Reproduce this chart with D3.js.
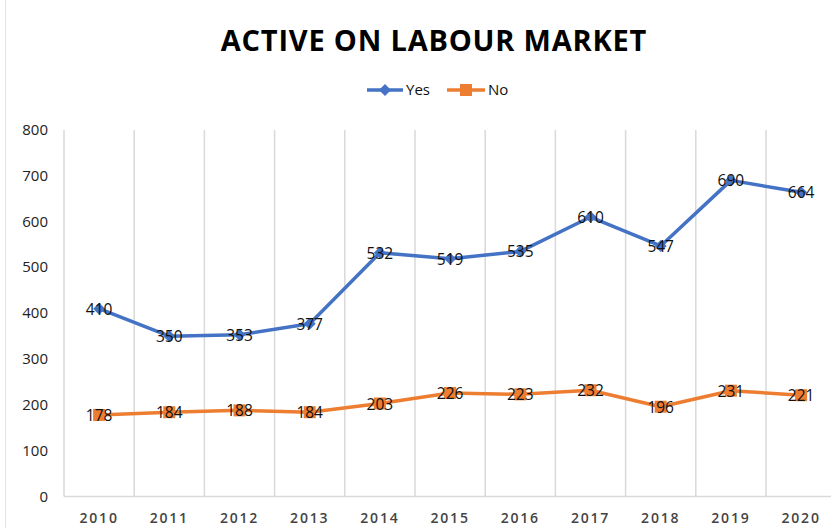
<!DOCTYPE html>
<html>
<head>
<meta charset="utf-8">
<script src="https://cdn.jsdelivr.net/npm/d3@7"></script>
<style>
  body { margin: 0; background: #fff; }
  #chart { width: 831px; height: 528px; }
</style>
</head>
<body>
<div id="chart"></div>
<script>
// data
const years = ["2010", "2011", "2012", "2013", "2014", "2015", "2016", "2017", "2018", "2019", "2020"];
const yesValues = [410, 350, 353, 377, 532, 519, 535, 610, 547, 690, 664];
const noValues = [178, 184, 188, 184, 203, 226, 223, 232, 196, 231, 221];
const yTicks = [0, 100, 200, 300, 400, 500, 600, 700, 800];

const blue = "#4472c4";
const orange = "#ed7d31";
const gridColor = "#d9d9d9";
const font = "'Open Sans', 'Noto Sans', sans-serif";

const width = 831, height = 528;

let svg = d3.select("#chart")
    .append("svg")
    .attr("width", width)
    .attr("height", height);

// left border of the chart frame
svg.append("line")
    .attr("x1", 5.5).attr("x2", 5.5)
    .attr("y1", 0).attr("y2", height)
    .attr("stroke", "#e3e3e3").attr("stroke-width", 1);

// title
svg.append("text")
    .attr("x", 434).attr("y", 51)
    .attr("text-anchor", "middle")
    .attr("font-family", font)
    .attr("font-weight", "bold")
    .attr("font-size", 29)
    .attr("letter-spacing", 0.8)
    .attr("fill", "#000")
    .text("ACTIVE ON LABOUR MARKET");

// scales
let x = d3.scaleBand()
    .domain(years)
    .range([64, 64 + 70.2 * years.length])
    .padding(0);

let y = d3.scaleLinear()
    .domain([0, 800])
    .range([496.5, 130]);

// vertical gridlines at category boundaries
let bounds = years.map(d => x(d)).concat([x.range()[1]]);
svg.append("g").selectAll("line")
    .data(bounds)
    .enter()
    .append("line")
    .attr("x1", d => d).attr("x2", d => d)
    .attr("y1", y(800)).attr("y2", y(0))
    .attr("stroke", gridColor)
    .attr("stroke-width", 1.5);

// x axis line
svg.append("line")
    .attr("x1", x.range()[0]).attr("x2", x.range()[1])
    .attr("y1", y(0)).attr("y2", y(0))
    .attr("stroke", gridColor)
    .attr("stroke-width", 1.5);

// y tick labels
svg.append("g").selectAll("text")
    .data(yTicks)
    .enter()
    .append("text")
    .attr("x", 48)
    .attr("y", d => y(d) + 5)
    .attr("text-anchor", "end")
    .attr("font-family", font)
    .attr("font-size", 15)
    .attr("fill", "#222")
    .text(d => d);

// x tick labels
svg.append("g").selectAll("text")
    .data(years)
    .enter()
    .append("text")
    .attr("x", d => x(d) + x.bandwidth() / 2)
    .attr("y", 523)
    .attr("text-anchor", "middle")
    .attr("font-family", font)
    .attr("font-weight", 600)
    .attr("font-size", 14)
    .attr("letter-spacing", 1.8)
    .attr("fill", "#444")
    .text(d => d);

const cx = i => x(years[i]) + x.bandwidth() / 2;

let line = d3.line()
    .x((d, i) => cx(i))
    .y(d => y(d));

// diamond marker: square turned 45 degrees
const diamond = "M0,-6L6,0L0,6L-6,0Z";

// No series
svg.append("path")
    .attr("d", line(noValues))
    .attr("fill", "none")
    .attr("stroke", orange)
    .attr("stroke-width", 3.5)
    .attr("stroke-linejoin", "round");

svg.append("g").selectAll("rect")
    .data(noValues)
    .enter()
    .append("rect")
    .attr("x", (d, i) => cx(i) - 6)
    .attr("y", d => y(d) - 6)
    .attr("width", 12).attr("height", 12)
    .attr("fill", orange);

// Yes series
svg.append("path")
    .attr("d", line(yesValues))
    .attr("fill", "none")
    .attr("stroke", blue)
    .attr("stroke-width", 3.5)
    .attr("stroke-linejoin", "round");

svg.append("g").selectAll("path")
    .data(yesValues)
    .enter()
    .append("path")
    .attr("d", diamond)
    .attr("transform", (d, i) => "translate(" + cx(i) + "," + y(d) + ")")
    .attr("fill", blue);

// data labels (centered on points)
function addLabels(values) {
    svg.append("g").selectAll("text")
        .data(values)
        .enter()
        .append("text")
        .attr("x", (d, i) => cx(i))
        .attr("y", d => y(d) + 6)
        .attr("text-anchor", "middle")
        .attr("font-family", font)
        .attr("font-size", 15.5)
        .attr("fill", "#111")
        .text(d => d);
}
addLabels(yesValues);
addLabels(noValues);

// legend
let legend = svg.append("g");
legend.append("line")
    .attr("x1", 367).attr("x2", 403).attr("y1", 90).attr("y2", 90)
    .attr("stroke", blue).attr("stroke-width", 3.5);
legend.append("path")
    .attr("d", diamond)
    .attr("transform", "translate(385,90)")
    .attr("fill", blue);
legend.append("text")
    .attr("x", 406).attr("y", 95)
    .attr("font-family", font).attr("font-size", 15).attr("fill", "#111")
    .text("Yes");
legend.append("line")
    .attr("x1", 447).attr("x2", 485).attr("y1", 90).attr("y2", 90)
    .attr("stroke", orange).attr("stroke-width", 3.5);
legend.append("rect")
    .attr("x", 460).attr("y", 84).attr("width", 12).attr("height", 12)
    .attr("fill", orange);
legend.append("text")
    .attr("x", 488).attr("y", 95)
    .attr("font-family", font).attr("font-size", 15).attr("fill", "#111")
    .text("No");
</script>
</body>
</html>
